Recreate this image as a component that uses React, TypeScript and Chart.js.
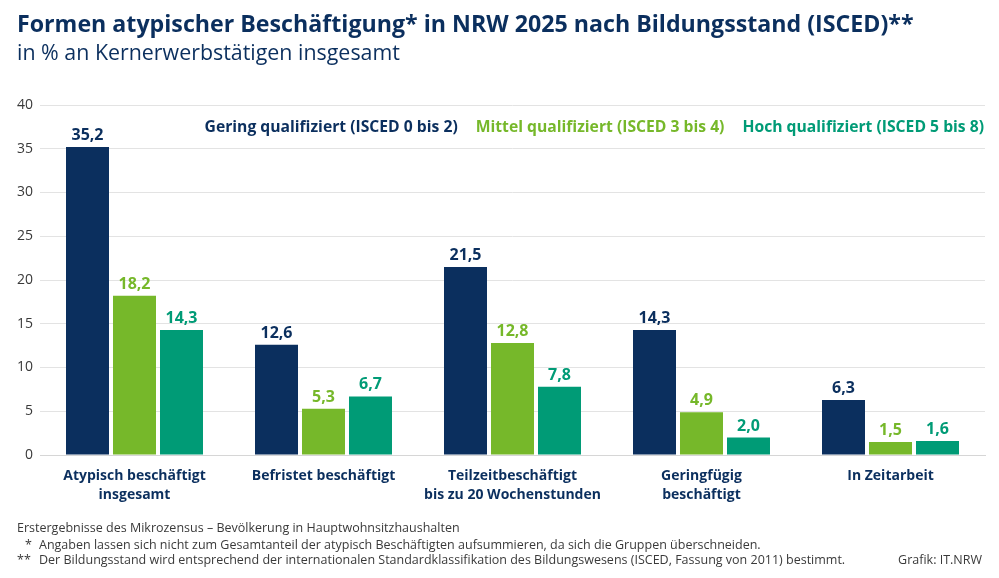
import React, { useEffect, useRef } from "react";
import { Chart, registerables } from "chart.js";

Chart.register(...registerables);

const categories: string[][] = [
  ["Atypisch beschäftigt", "insgesamt"],
  ["Befristet beschäftigt"],
  ["Teilzeitbeschäftigt", "bis zu 20 Wochenstunden"],
  ["Geringfügig", "beschäftigt"],
  ["In Zeitarbeit"],
];
const seriesNames = [
  "Gering qualifiziert (ISCED 0 bis 2)",
  "Mittel qualifiziert (ISCED 3 bis 4)",
  "Hoch qualifiziert (ISCED 5 bis 8)",
];
const gering = [35.2, 12.6, 21.5, 14.3, 6.3];
const mittel = [18.2, 5.3, 12.8, 4.9, 1.5];
const hoch = [14.3, 6.7, 7.8, 2.0, 1.6];
const yMin = 0;
const yMax = 40;
const yStep = 5;

const NAVY = "#0b2f5e";
const GREEN = "#76b82a";
const TEAL = "#009b76";
const seriesColors = [NAVY, GREEN, TEAL];
const FONT = "'Open Sans', sans-serif";

const fmt = (v: number) => v.toFixed(1).replace(".", ",");

const valueLabels = {
  id: "valueLabels",
  afterDatasetsDraw(chart: any) {
    const ctx = chart.ctx;
    ctx.save();
    ctx.font = `700 16px ${FONT}`;
    ctx.textAlign = "center";
    ctx.textBaseline = "alphabetic";
    chart.data.datasets.forEach((ds: any, i: number) => {
      const meta = chart.getDatasetMeta(i);
      ctx.fillStyle = ds.backgroundColor;
      meta.data.forEach((bar: any, j: number) => {
        ctx.fillText(fmt(ds.data[j]), bar.x, bar.y - 7);
      });
    });
    ctx.restore();
  },
};

const inlineLegend = {
  id: "inlineLegend",
  afterDraw(chart: any) {
    const ctx = chart.ctx;
    const area = chart.chartArea;
    ctx.save();
    ctx.font = `700 15.7px ${FONT}`;
    ctx.textAlign = "left";
    ctx.textBaseline = "middle";
    const gap = 18;
    const widths = seriesNames.map((n) => ctx.measureText(n).width);
    const total = widths.reduce((a, b) => a + b, 0) + gap * (widths.length - 1);
    let x = area.right - 1 - total;
    const y = area.top + 23;
    seriesNames.forEach((n, i) => {
      ctx.fillStyle = seriesColors[i];
      ctx.fillText(n, x, y);
      x += widths[i] + gap;
    });
    ctx.restore();
  },
};

export default function App() {
  const canvasRef = useRef<HTMLCanvasElement | null>(null);

  useEffect(() => {
    let chart: Chart | null = null;
    let cancelled = false;
    const make = () => {
      if (cancelled || !canvasRef.current) return;
      chart = new Chart(canvasRef.current, {
        type: "bar",
        data: {
          labels: categories,
          datasets: [
            { label: seriesNames[0], data: gering, backgroundColor: NAVY },
            { label: seriesNames[1], data: mittel, backgroundColor: GREEN },
            { label: seriesNames[2], data: hoch, backgroundColor: TEAL },
          ],
        },
        options: {
          responsive: false,
          animation: false,
          devicePixelRatio: 1,
          layout: { padding: { top: 105, right: 14, left: 0, bottom: 0 } },
          datasets: {
            bar: { categoryPercentage: 0.746, barPercentage: 0.915 },
          },
          plugins: {
            legend: { display: false },
            tooltip: { enabled: false },
            title: { display: false },
          },
          scales: {
            x: {
              grid: { display: false },
              border: { display: true, color: "#d6d6d6" },
              ticks: {
                color: NAVY,
                font: { family: FONT, size: 14, weight: "bold", lineHeight: 1.36 },
                padding: 3,
                maxRotation: 0,
                autoSkip: false,
              },
              afterFit: (s: any) => {
                s.height = 123;
              },
            },
            y: {
              min: yMin,
              max: yMax,
              border: { display: false },
              grid: { color: "#e3e3e3", drawTicks: false, lineWidth: 1 },
              ticks: {
                stepSize: yStep,
                color: "#3a3a3a",
                font: { family: FONT, size: 14 },
                padding: 7,
              },
              afterFit: (s: any) => {
                s.width = 40;
              },
            },
          },
        },
        plugins: [valueLabels, inlineLegend],
      } as any);
    };
    const fontsApi: any = (document as any).fonts;
    if (fontsApi && fontsApi.load) {
      Promise.all([
        fontsApi.load(`700 15px "Open Sans"`),
        fontsApi.load(`400 14px "Open Sans"`),
      ])
        .catch(() => {})
        .then(make);
    } else {
      make();
    }
    return () => {
      cancelled = true;
      if (chart) chart.destroy();
    };
  }, []);

  const footStyle: React.CSSProperties = {
    position: "absolute",
    fontFamily: FONT,
    fontSize: "12.5px",
    lineHeight: "normal",
    color: "#3a3a3a",
    whiteSpace: "nowrap",
    margin: 0,
  };

  return (
    <div
      style={{
        position: "absolute",
        left: 0,
        top: 0,
        width: 999,
        height: 578,
        background: "#ffffff",
        overflow: "hidden",
        fontFamily: FONT,
      }}
    >
      <canvas
        ref={canvasRef}
        width={999}
        height={578}
        style={{ position: "absolute", left: 0, top: 0, width: 999, height: 578 }}
      />
      <div
        style={{
          position: "absolute",
          left: 17,
          top: 7,
          fontSize: "23.2px",
          fontWeight: 700,
          color: NAVY,
          lineHeight: "normal",
          whiteSpace: "nowrap",
        }}
      >
        Formen atypischer Beschäftigung* in NRW 2025 nach Bildungsstand (ISCED)**
      </div>
      <div
        style={{
          position: "absolute",
          left: 17,
          top: 37,
          fontSize: "21.4px",
          fontWeight: 400,
          color: NAVY,
          lineHeight: "normal",
          whiteSpace: "nowrap",
        }}
      >
        in % an Kernerwerbstätigen insgesamt
      </div>
      <div style={{ ...footStyle, left: 17, top: 519 }}>
        Erstergebnisse des Mikrozensus – Bevölkerung in Hauptwohnsitzhaushalten
      </div>
      <div style={{ ...footStyle, left: 25, top: 536 }}>*</div>
      <div style={{ ...footStyle, left: 39, top: 536 }}>
        Angaben lassen sich nicht zum Gesamtanteil der atypisch Beschäftigten aufsummieren, da sich die Gruppen überschneiden.
      </div>
      <div style={{ ...footStyle, left: 17, top: 551 }}>**</div>
      <div style={{ ...footStyle, left: 39, top: 551 }}>
        Der Bildungsstand wird entsprechend der internationalen Standardklassifikation des Bildungswesens (ISCED, Fassung von 2011) bestimmt.
      </div>
      <div style={{ ...footStyle, right: 17, top: 551 }}>Grafik: IT.NRW</div>
    </div>
  );
}
